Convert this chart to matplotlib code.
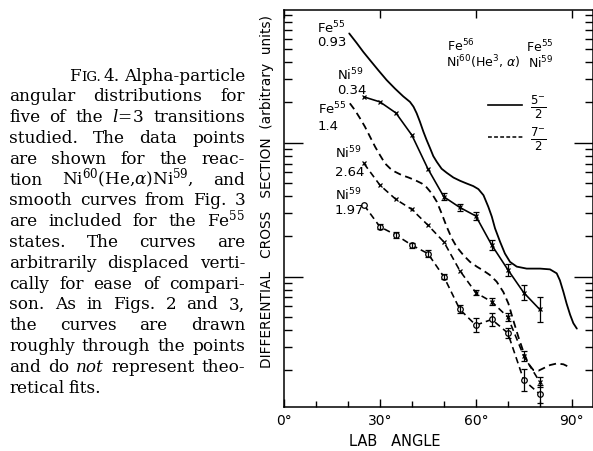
import numpy as np
import matplotlib
matplotlib.use("Agg")
import matplotlib.pyplot as plt
from matplotlib.lines import Line2D

W, H = 593, 451

# ---------------- data ----------------
# Fe55 0.93 MeV smooth curve (5/2-)
fe093_ang = [20.4, 22.7, 24.8, 26.9, 29.5, 32.1, 34.7, 37.3, 39.4, 40.5, 41.5, 42.5, 43.6,
             44.6, 45.7, 46.7, 47.8, 49.3, 50.9, 53.0, 55.1, 57.1, 59.2, 60.8, 62.4, 63.9,
             65.0, 66.0, 67.6, 69.1, 70.7, 72.8, 75.9, 80.1, 83.2, 85.3, 86.3, 87.4,
             88.4, 89.5, 90.5, 91.6]
fe093_val = [655, 557, 477, 414, 348, 294, 254, 222, 202, 186, 166, 144, 121,
             105, 91, 79.5, 72, 64, 59.7, 55, 52, 49.7, 47.5, 45.1, 40.6, 33.3,
             28.1, 23, 18.2, 14.9, 12.9, 11.9, 11.5, 11.5, 11.35, 10.6, 9.4, 7.7,
             6.3, 5.2, 4.5, 4.1]

# Fe55 1.4 MeV smooth curve (7/2-)
fe14_ang = [20.6, 22.2, 23.8, 25.3, 26.9, 28.5, 30.0, 31.6, 33.2, 34.7, 36.8, 38.9, 41.0,
            43.1, 44.6, 46.2, 47.8, 49.3, 50.9, 52.5, 54.0, 56.1, 58.2, 60.3, 62.4, 64.4,
            66.5, 68.6, 70.2, 71.7, 73.3, 74.9, 76.4, 78.0, 79.6, 81.1, 83.2, 85.3,
            87.4, 89.5]
fe14_val = [197, 175, 152, 132, 111, 93.4, 81, 70.1, 64.3, 60.8, 57.4, 55.1, 52.6,
            49.7, 46.5, 41.9, 36.3, 29.7, 23.6, 19.3, 16.7, 14.5, 12.9, 11.9, 11.1, 10.3,
            9.2, 7.7, 6.3, 4.75, 3.56, 2.75, 2.25, 2.01, 1.99, 2.07, 2.19, 2.25,
            2.22, 2.10]

# Ni59 data points
ni_ang = [25, 30, 35, 40, 45, 50, 55, 60, 65, 70, 75, 80]
ni034_val = [220, 202, 167, 114, 64, 39.5, 32.9, 28.4, 17.2, 11.3, 7.6, 5.7]
ni034_err = [0, 0, 0, 0, 0, 0.025, 0.025, 0.03, 0.037, 0.045, 0.057, 0.092]   # dex
ni264_val = [70.1, 48.3, 37.8, 31.8, 24.3, 18.2, 11.1, 7.6, 6.5, 5.0, 2.56, 1.64]
ni264_err = [0, 0, 0, 0, 0, 0, 0, 0.02, 0.025, 0.03, 0.035, 0.04]
ni197_val = [34.3, 23.6, 20.5, 17.2, 14.9, 10.0, 5.7, 4.35, 4.8, 3.8, 1.69, 1.33]
ni197_err = [0, 0.02, 0.02, 0.02, 0.025, 0.02, 0.03, 0.05, 0.05, 0.04, 0.08, 0.07]

xticks = [0, 30, 60, 90]
xticklabels = ["0°", "30°", "60°", "90°"]

caption = [
    ("FIG. 4. Alpha-particle", True, 69),
    ("angular distributions for", True, 9),
    ("five of the $l\\!=\\!3$ transitions", True, 9),
    ("studied. The data points", True, 9),
    ("are shown for the reac-", True, 9),
    ("tion Ni$^{60}$(He,$\\alpha$)Ni$^{59}$, and", True, 9),
    ("smooth curves from Fig. 3", True, 9),
    ("are included for the Fe$^{55}$", True, 9),
    ("states. The curves are", True, 9),
    ("arbitrarily displaced verti-", True, 9),
    ("cally for ease of compari-", True, 9),
    ("son. As in Figs. 2 and 3,", True, 9),
    ("the curves are drawn", True, 9),
    ("roughly through the points", True, 9),
    ("and do *not represent theo-", True, 9),
    ("retical fits.", False, 9),
]

# ---------------- figure ----------------
fig = plt.figure(figsize=(W / 100, H / 100), dpi=100)
fig.patch.set_facecolor("white")

def fx(px):
    return px / W

def fy(py):
    return 1 - py / H

ax = fig.add_axes([fx(284), fy(407.3), fx(593) - fx(284), fy(10) - fy(407.3)])
ax.set_yscale("log")
ax.set_xlim(0, (593 - 284) / 3.197)
ax.set_ylim(1.06, 980)

lw = 1.3
dash = (0, (4, 2.5))
ax.plot(fe093_ang, fe093_val, color="k", lw=lw, solid_capstyle="round", solid_joinstyle="round")
ax.plot(fe14_ang, fe14_val, color="k", lw=lw, ls=dash)


def dex_err(vals, errs):
    v = np.asarray(vals, float)
    e = np.asarray(errs, float)
    return [v - v / 10 ** e, v * 10 ** e - v]


ax.plot(ni_ang, ni034_val, color="k", lw=lw * 0.9, marker="x", ms=3.5, mew=0.9)
ax.plot(ni_ang, ni264_val, color="k", lw=lw * 0.9, ls=dash, marker="x", ms=3.5, mew=0.9)
ax.plot(ni_ang, ni197_val, color="k", lw=lw * 0.9, ls=dash, marker="o", ms=4,
        mfc="white", mew=0.9)
for vals, errs in [(ni034_val, ni034_err), (ni264_val, ni264_err), (ni197_val, ni197_err)]:
    idx = [i for i, e in enumerate(errs) if e > 0]
    xs = [ni_ang[i] for i in idx]
    ys = [vals[i] for i in idx]
    es = [errs[i] for i in idx]
    ax.errorbar(xs, ys, yerr=dex_err(ys, es), fmt="none", ecolor="k", elinewidth=0.9,
                capsize=2.2, capthick=0.9)

ax.set_xticks(xticks)
ax.set_xticklabels(xticklabels, fontsize=10, family="DejaVu Sans")
ax.set_xticks(range(0, 97, 10), minor=True)
ax.yaxis.set_major_formatter(matplotlib.ticker.NullFormatter())
ax.yaxis.set_minor_formatter(matplotlib.ticker.NullFormatter())
ax.tick_params(axis="x", which="major", direction="in", length=6, width=1, top=True, pad=5)
ax.tick_params(axis="x", which="minor", direction="in", length=4, width=1, top=False)
ax.tick_params(axis="y", which="major", direction="in", length=14, width=1, right=True)
ax.tick_params(axis="y", which="minor", direction="in", length=6, width=1, right=True)
for s in ax.spines.values():
    s.set_linewidth(1.1)

# axis labels
fig.text(fx(395), fy(441), "LAB   ANGLE", fontsize=10.5, family="DejaVu Sans",
         ha="center", va="center")
fig.text(fx(267), fy(192), "DIFFERENTIAL   CROSS   SECTION  (arbitrary  units)",
         fontsize=9.9, family="DejaVu Sans", rotation=90, ha="center", va="center")

# curve labels
lab_kw = dict(fontsize=9.5, family="DejaVu Sans", math_fontfamily="dejavusans",
              ha="left", va="center")
for (txt1, txt2, px, py1, py2) in [
    ("Fe$^{55}$", "0.93", 317, 28, 43),
    ("Ni$^{59}$", "0.34", 337, 75, 90),
    ("Fe$^{55}$", "1.4", 318, 109, 127),
    ("Ni$^{59}$", "2.64", 335, 153, 172),
    ("Ni$^{59}$", "1.97", 335, 195, 211),
]:
    fig.text(fx(px), fy(py1), txt1, **lab_kw)
    fig.text(fx(px), fy(py2), txt2, **lab_kw)

# legend / reaction text
leg_kw = dict(lab_kw)
leg_kw["fontsize"] = 9
fig.text(fx(447), fy(46), "Fe$^{56}$", **leg_kw)
fig.text(fx(446), fy(62), "Ni$^{60}$(He$^{3}$, $\\alpha$)", **leg_kw)
fig.text(fx(526), fy(47), "Fe$^{55}$", **leg_kw)
fig.text(fx(528), fy(63), "Ni$^{59}$", **leg_kw)
fig.add_artist(Line2D([fx(488), fx(522)], [fy(105), fy(105)], color="k", lw=1.2))
fig.add_artist(Line2D([fx(488), fx(523)], [fy(137), fy(137)], color="k", lw=1.1,
                      ls=(0, (2.5, 1.5))))
fig.text(fx(538), fy(107), "$\\frac{5^{-}}{2}$", fontsize=12, math_fontfamily="dejavusans",
         ha="center", va="center")
fig.text(fx(538), fy(139), "$\\frac{7^{-}}{2}$", fontsize=12, math_fontfamily="dejavusans",
         ha="center", va="center")

# ---------------- caption (justified) ----------------
fig.canvas.draw()
renderer = fig.canvas.get_renderer()
cap_fs = 12.2
right_edge = 245
line_h = 20.8
y0 = 76.4
for i, (line, justify, left) in enumerate(caption):
    words = line.split(" ")
    base_y = y0 + i * line_h + 4.2
    pieces = []
    for w in words:
        if w == "FIG.":
            parts = [("F", cap_fs, "normal"), ("IG.", cap_fs * 0.78, "normal")]
        elif w.startswith("*"):
            parts = [(w[1:], cap_fs, "italic")]
        else:
            parts = [(w, cap_fs, "normal")]
        objs = []
        width = 0
        for (t, fs, st) in parts:
            o = fig.text(0, fy(base_y), t, fontsize=fs, family="DejaVu Serif", style=st,
                         math_fontfamily="dejavuserif", va="baseline", ha="left")
            wd = o.get_window_extent(renderer).width
            objs.append((o, wd))
            width += wd
        pieces.append((objs, width))
    total = sum(p[1] for p in pieces)
    if justify and len(pieces) > 1:
        gap = max(3.0, (right_edge - left - total) / (len(pieces) - 1))
    else:
        gap = 4.5
    x = left
    for objs, width in pieces:
        xx = x
        for o, wd in objs:
            o.set_x(fx(xx))
            xx += wd
        x += width + gap

fig.savefig("out.png", dpi=100, facecolor="white")
